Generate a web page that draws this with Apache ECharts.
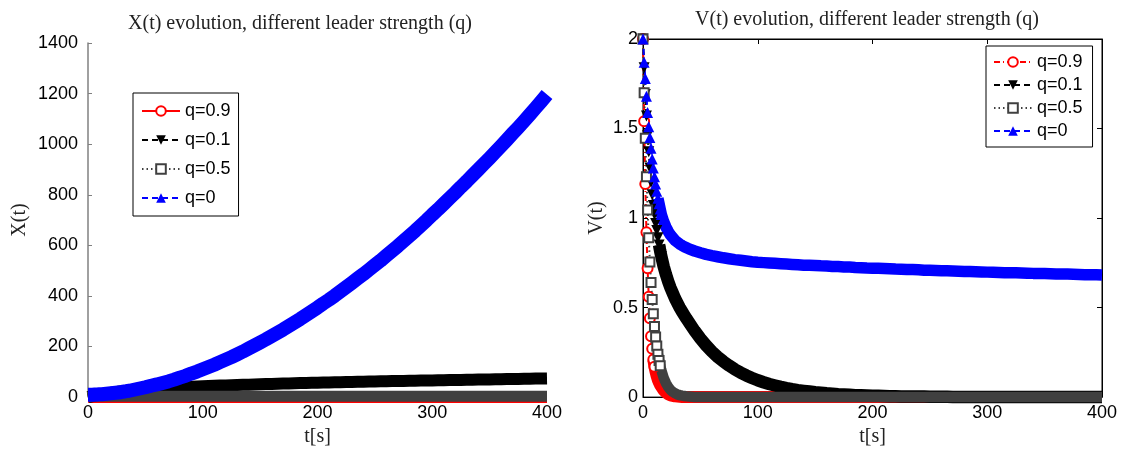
<!DOCTYPE html>
<html>
<head>
<meta charset="utf-8">
<script src="https://cdn.jsdelivr.net/npm/echarts@6/dist/echarts.min.js"></script>
<style>
  html, body { margin: 0; padding: 0; background: #fff; }
  #chart { width: 1124px; height: 452px; }
</style>
</head>
<body>
<div id="chart"></div>
<script>
// time samples [s]
const tVals = [
  0, 1, 2, 3, 4, 5, 6, 7, 8, 9, 10, 11, 12, 13, 14, 15, 16,
  18, 20, 22, 24, 26, 28, 30, 32, 34, 36, 38, 40,
  45, 50, 55, 60, 65, 70, 75, 80, 85, 90, 95, 100,
  105, 110, 115, 120, 125, 130, 135, 140, 145, 150,
  155, 160, 165, 170, 175, 180, 185, 190, 195, 200,
  205, 210, 215, 220, 225, 230, 235, 240, 245, 250,
  255, 260, 265, 270, 275, 280, 285, 290, 295, 300,
  305, 310, 315, 320, 325, 330, 335, 340, 345, 350,
  355, 360, 365, 370, 375, 380, 385, 390, 395, 400
];

// X(t) for each q
const xQ09 = [
  0, 0.2, 0.3, 0.3, 0.3, 0.3, 0.3, 0.3, 0.3, 0.3, 0.3, 0.3, 0.3, 0.3, 0.3, 0.3, 0.3,
  0.3, 0.3, 0.3, 0.3, 0.3, 0.3, 0.3, 0.3, 0.3, 0.3, 0.3, 0.3,
  0.3, 0.3, 0.3, 0.3, 0.3, 0.3, 0.3, 0.3, 0.3, 0.3, 0.3, 0.3,
  0.3, 0.3, 0.3, 0.3, 0.3, 0.3, 0.3, 0.3, 0.3, 0.3,
  0.3, 0.3, 0.3, 0.3, 0.3, 0.3, 0.3, 0.3, 0.3, 0.3,
  0.3, 0.3, 0.3, 0.3, 0.3, 0.3, 0.3, 0.3, 0.3, 0.3,
  0.3, 0.3, 0.3, 0.3, 0.3, 0.3, 0.3, 0.3, 0.3, 0.3,
  0.3, 0.3, 0.3, 0.3, 0.3, 0.3, 0.3, 0.3, 0.3, 0.3,
  0.3, 0.3, 0.3, 0.3, 0.3, 0.3, 0.3, 0.3, 0.3, 0.3
];
const xQ01 = [
  0, 1, 2, 3, 4, 5, 6, 6.5, 7.5, 8, 9, 10, 11, 11.5, 12, 13, 14,
  15, 17, 18, 19, 21, 22, 23, 24, 25, 26, 27, 28,
  30, 32, 33, 35, 36, 37, 38, 39, 40, 41, 42, 43,
  44, 45, 45.5, 46, 47, 48, 48.5, 49, 50, 51,
  51.5, 52, 53, 53.5, 54, 55, 55.5, 56, 56.5, 57,
  57.5, 58, 58.5, 59, 59.5, 60, 60.5, 61, 61.5, 62,
  62.4, 62.8, 63.2, 63.6, 64, 64.4, 64.8, 65.2, 65.6, 66,
  66.4, 66.8, 67.2, 67.6, 68, 68.4, 68.8, 69.2, 69.6, 70,
  70.4, 70.8, 71.2, 71.6, 72, 72.4, 72.8, 73.2, 73.6, 74
];
const xQ05 = [
  0, 1, 2, 2.5, 3, 3, 3, 3, 3, 3, 3, 3, 3, 3, 3, 3, 3,
  3, 3, 3, 3, 3, 3, 3, 3, 3, 3, 3, 3,
  3, 3, 3, 3, 3, 3, 3, 3, 3, 3, 3, 3,
  3, 3, 3, 3, 3, 3, 3, 3, 3, 3,
  3, 3, 3, 3, 3, 3, 3, 3, 3, 3,
  3, 3, 3, 3, 3, 3, 3, 3, 3, 3,
  3, 3, 3, 3, 3, 3, 3, 3, 3, 3,
  3, 3, 3, 3, 3, 3, 3, 3, 3, 3,
  3, 3, 3, 3, 3, 3, 3, 3, 3, 3
];
const xQ0 = [
  9, 9, 9, 9, 9, 10, 10, 10, 10, 10, 11, 11, 11, 12, 12, 12, 13,
  14, 15, 16, 17, 18, 19, 21, 22, 24, 25, 27, 29,
  34, 39, 45, 50, 56, 62, 69, 77, 84, 93, 101, 110,
  119, 128, 138, 148, 158, 169, 180, 192, 204, 216,
  228, 241, 254, 267, 281, 295, 309, 324, 339, 354,
  370, 385, 401, 418, 435, 452, 469, 486, 504, 522,
  540, 559, 578, 597, 617, 637, 657, 678, 699, 721,
  742, 764, 786, 808, 831, 853, 876, 899, 922, 945,
  969, 993, 1017, 1042, 1066, 1091, 1117, 1143, 1169, 1196
];

// V(t) for each q
const vQ09 = [
  2.0, 1.54, 1.19, 0.92, 0.72, 0.56, 0.44, 0.34, 0.27, 0.21, 0.17, 0.14, 0.115, 0.095, 0.08, 0.066, 0.055,
  0.037, 0.025, 0.016, 0.010, 0.007, 0.004, 0.003, 0.002, 0.001, 0, 0, 0,
  0, 0, 0, 0, 0, 0, 0, 0, 0, 0, 0, 0,
  0, 0, 0, 0, 0, 0, 0, 0, 0, 0,
  0, 0, 0, 0, 0, 0, 0, 0, 0, 0,
  0, 0, 0, 0, 0, 0, 0, 0, 0, 0,
  0, 0, 0, 0, 0, 0, 0, 0, 0, 0,
  0, 0, 0, 0, 0, 0, 0, 0, 0, 0,
  0, 0, 0, 0, 0, 0, 0, 0, 0, 0
];
const vQ01 = [
  2.0, 1.84, 1.69, 1.57, 1.46, 1.37, 1.28, 1.20, 1.13, 1.07, 1.02, 0.97, 0.93, 0.89, 0.85, 0.815, 0.785,
  0.73, 0.685, 0.645, 0.61, 0.58, 0.55, 0.525, 0.5, 0.478, 0.457, 0.437, 0.418,
  0.37, 0.327, 0.289, 0.255, 0.225, 0.199, 0.176, 0.155, 0.137, 0.121, 0.107, 0.094,
  0.083, 0.073, 0.065, 0.057, 0.05, 0.044, 0.039, 0.035, 0.031, 0.027,
  0.024, 0.021, 0.019, 0.016, 0.015, 0.013, 0.011, 0.01, 0.009, 0.008,
  0.007, 0.006, 0.005, 0.005, 0.004, 0.004, 0.003, 0.003, 0.003, 0.002,
  0.002, 0.002, 0.002, 0.001, 0.001, 0.001, 0.001, 0.001, 0.001, 0.001,
  0.001, 0.001, 0.001, 0.001, 0.001, 0, 0, 0, 0, 0,
  0, 0, 0, 0, 0, 0, 0, 0, 0, 0
];
const vQ05 = [
  2.0, 1.70, 1.445, 1.23, 1.045, 0.89, 0.755, 0.64, 0.545, 0.465, 0.395, 0.335, 0.285, 0.24, 0.205, 0.175, 0.15,
  0.108, 0.078, 0.056, 0.04, 0.029, 0.021, 0.015, 0.011, 0.008, 0.006, 0.004, 0.003,
  0.001, 0, 0, 0, 0, 0, 0, 0, 0, 0, 0, 0,
  0, 0, 0, 0, 0, 0, 0, 0, 0, 0,
  0, 0, 0, 0, 0, 0, 0, 0, 0, 0,
  0, 0, 0, 0, 0, 0, 0, 0, 0, 0,
  0, 0, 0, 0, 0, 0, 0, 0, 0, 0,
  0, 0, 0, 0, 0, 0, 0, 0, 0, 0,
  0, 0, 0, 0, 0, 0, 0, 0, 0, 0
];
const vQ0 = [
  2.0, 1.87, 1.78, 1.68, 1.59, 1.51, 1.45, 1.39, 1.33, 1.28, 1.23, 1.19, 1.15, 1.11, 1.08, 1.05, 1.02,
  0.98, 0.95, 0.925, 0.905, 0.89, 0.875, 0.865, 0.855, 0.847, 0.84, 0.834, 0.828,
  0.816, 0.806, 0.797, 0.79, 0.784, 0.778, 0.773, 0.768, 0.764, 0.76, 0.756, 0.753,
  0.751, 0.749, 0.747, 0.745, 0.743, 0.741, 0.739, 0.737, 0.736, 0.735,
  0.733, 0.732, 0.73, 0.729, 0.727, 0.726, 0.724, 0.723, 0.721, 0.72,
  0.719, 0.718, 0.717, 0.715, 0.714, 0.713, 0.712, 0.711, 0.709, 0.708,
  0.707, 0.706, 0.705, 0.704, 0.703, 0.702, 0.701, 0.7, 0.699, 0.698,
  0.697, 0.696, 0.695, 0.695, 0.694, 0.693, 0.692, 0.691, 0.691, 0.69,
  0.689, 0.688, 0.687, 0.687, 0.686, 0.685, 0.684, 0.683, 0.683, 0.682
];

const qNames = ['q=0.9', 'q=0.1', 'q=0.5', 'q=0'];
const xTicks = [0, 400, 100];      // min, max, step
const xYTicks = [0, 1400, 200];
const vYTicks = [0, 2, 0.5];

const sans = 'Liberation Sans';
const serif = 'Liberation Serif';

function pairs(vals) {
  return tVals.map((t, i) => [t, vals[i]]);
}

// marker / line look for each q
const looks = {
  'q=0.9': { symbol: 'emptyCircle', symbolSize: 10, symbolRotate: 0, color: '#ff0000',
             itemStyle: { color: '#ff0000', borderWidth: 2 } },
  'q=0.1': { symbol: 'triangle', symbolSize: 11, symbolRotate: 180, color: '#000000',
             itemStyle: { color: '#000000' } },
  'q=0.5': { symbol: 'emptyRect', symbolSize: 9, symbolRotate: 0, color: '#404040',
             itemStyle: { color: '#404040', borderWidth: 2.5 } },
  'q=0':   { symbol: 'triangle', symbolSize: 11, symbolRotate: 0, color: '#0000ff',
             itemStyle: { color: '#0000ff' } }
};

// separate markers (steep start of the curve)
function makeMarkers(name, vals, upTo, xi, yi, dash) {
  const lk = looks[name];
  return {
    name: name,
    type: 'line',
    xAxisIndex: xi,
    yAxisIndex: yi,
    data: pairs(vals).slice(0, upTo),
    symbol: lk.symbol,
    symbolSize: lk.symbolSize,
    symbolRotate: lk.symbolRotate,
    showSymbol: true,
    clip: false,
    itemStyle: lk.itemStyle,
    lineStyle: { color: lk.color, width: 2, type: dash },
    emphasis: { disabled: true },
    animation: false
  };
}

// densely packed markers merge into a thick band
function makeBand(name, vals, from, xi, yi, width) {
  const lk = looks[name];
  return {
    name: 'band ' + name,
    type: 'line',
    xAxisIndex: xi,
    yAxisIndex: yi,
    data: pairs(vals).slice(from),
    showSymbol: false,
    symbol: 'none',
    clip: false,
    silent: true,
    lineStyle: { color: lk.color, width: width, cap: 'butt', join: 'round' },
    emphasis: { disabled: true },
    animation: false
  };
}

const axisText = { color: '#000', fontSize: 18, fontFamily: sans };
const nameText = { color: '#222', fontSize: 20, fontFamily: serif };
const titleText = { color: '#222', fontSize: 20, fontWeight: 'normal', fontFamily: serif };

const legendBase = {
  orient: 'vertical',
  itemWidth: 38,
  itemHeight: 12,
  borderColor: '#000',
  borderWidth: 1,
  backgroundColor: '#fff',
  selectedMode: false,
  textStyle: { color: '#000', fontSize: 18, fontFamily: sans }
};

const option = {
  animation: false,
  backgroundColor: '#fff',
  title: [
    { text: 'X(t) evolution, different leader strength (q)', left: 295, top: 9, textAlign: 'center',
      textStyle: titleText },
    { text: 'V(t) evolution, different leader strength (q)', left: 862, top: 5, textAlign: 'center',
      textStyle: titleText }
  ],
  legend: [
    Object.assign({}, legendBase, {
      left: 133, top: 93, itemGap: 11, padding: [9, 8, 9, 8],
      data: [
        { name: 'q=0.9', lineStyle: { type: 'solid' } },
        'q=0.1', 'q=0.5', 'q=0'
      ]
    }),
    Object.assign({}, legendBase, {
      left: 986, top: 46, itemGap: 5, padding: [7, 10, 7, 7],
      data: qNames
    })
  ],
  grid: [
    { left: 88, top: 43, width: 459, height: 356 },
    { left: 643, top: 39, width: 459, height: 361, show: true, borderColor: '#000', borderWidth: 1 }
  ],
  xAxis: [
    { gridIndex: 0, type: 'value', min: xTicks[0], max: xTicks[1], interval: xTicks[2],
      axisLine: { show: false }, axisTick: { show: false }, splitLine: { show: false },
      axisLabel: Object.assign({ margin: 7 }, axisText),
      name: 't[s]', nameLocation: 'middle', nameGap: 29, nameTextStyle: nameText },
    { gridIndex: 1, type: 'value', min: xTicks[0], max: xTicks[1], interval: xTicks[2],
      axisLine: { show: true, onZero: false, lineStyle: { color: '#000', width: 1 } },
      axisTick: { inside: true, length: 5, lineStyle: { color: '#000' } },
      splitLine: { show: false },
      axisLabel: Object.assign({ margin: 7 }, axisText),
      name: 't[s]', nameLocation: 'middle', nameGap: 29, nameTextStyle: nameText },
    { gridIndex: 1, type: 'value', position: 'top', min: xTicks[0], max: xTicks[1], interval: xTicks[2],
      axisLine: { show: true, onZero: false, lineStyle: { color: '#000', width: 1 } },
      axisTick: { inside: true, length: 5, lineStyle: { color: '#000' } },
      splitLine: { show: false }, axisLabel: { show: false } }
  ],
  yAxis: [
    { gridIndex: 0, type: 'value', min: xYTicks[0], max: xYTicks[1], interval: xYTicks[2],
      axisLine: { show: true, onZero: false, lineStyle: { color: '#808080', width: 1.5 } },
      axisTick: { inside: true, length: 4, lineStyle: { color: '#808080' } },
      splitLine: { show: false },
      axisLabel: Object.assign({ margin: 10, formatter: v => String(v) }, axisText),
      name: 'X(t)', nameLocation: 'middle', nameGap: 58, nameTextStyle: nameText },
    { gridIndex: 1, type: 'value', min: vYTicks[0], max: vYTicks[1], interval: vYTicks[2],
      axisLine: { show: true, onZero: false, lineStyle: { color: '#000', width: 1 } },
      axisTick: { inside: true, length: 5, lineStyle: { color: '#000' } },
      splitLine: { show: false },
      axisLabel: Object.assign({ margin: 5 }, axisText),
      name: 'V(t)', nameLocation: 'middle', nameGap: 36, nameTextStyle: nameText },
    { gridIndex: 1, type: 'value', position: 'right', min: vYTicks[0], max: vYTicks[1], interval: vYTicks[2],
      axisLine: { show: true, onZero: false, lineStyle: { color: '#000', width: 1 } },
      axisTick: { inside: true, length: 5, lineStyle: { color: '#000' } },
      splitLine: { show: false }, axisLabel: { show: false } }
  ],
  series: [
    // V(t) panel: markers come first in the list so the legends take their icons
    makeBand('q=0.9', vQ09, 9, 1, 1, 12),
    makeMarkers('q=0.9', vQ09, 11, 1, 1, [6, 3, 1, 3]),
    makeBand('q=0.1', vQ01, 14, 1, 1, 12.5),
    makeMarkers('q=0.1', vQ01, 17, 1, 1, [6, 4]),
    makeBand('q=0.5', vQ05, 13, 1, 1, 10.5),
    makeMarkers('q=0.5', vQ05, 16, 1, 1, [1.5, 3]),
    makeBand('q=0', vQ0, 13, 1, 1, 11.5),
    makeMarkers('q=0', vQ0, 17, 1, 1, [6, 4]),
    // X(t) panel: the markers are so dense they form solid bands
    makeBand('q=0.9', xQ09, 0, 0, 0, 12),
    makeBand('q=0.1', xQ01, 0, 0, 0, 12),
    makeBand('q=0.5', xQ05, 0, 0, 0, 11),
    makeBand('q=0', xQ0, 0, 0, 0, 14)
  ]
};

const myChart = echarts.init(document.getElementById('chart'));
myChart.setOption(option);
</script>
</body>
</html>
